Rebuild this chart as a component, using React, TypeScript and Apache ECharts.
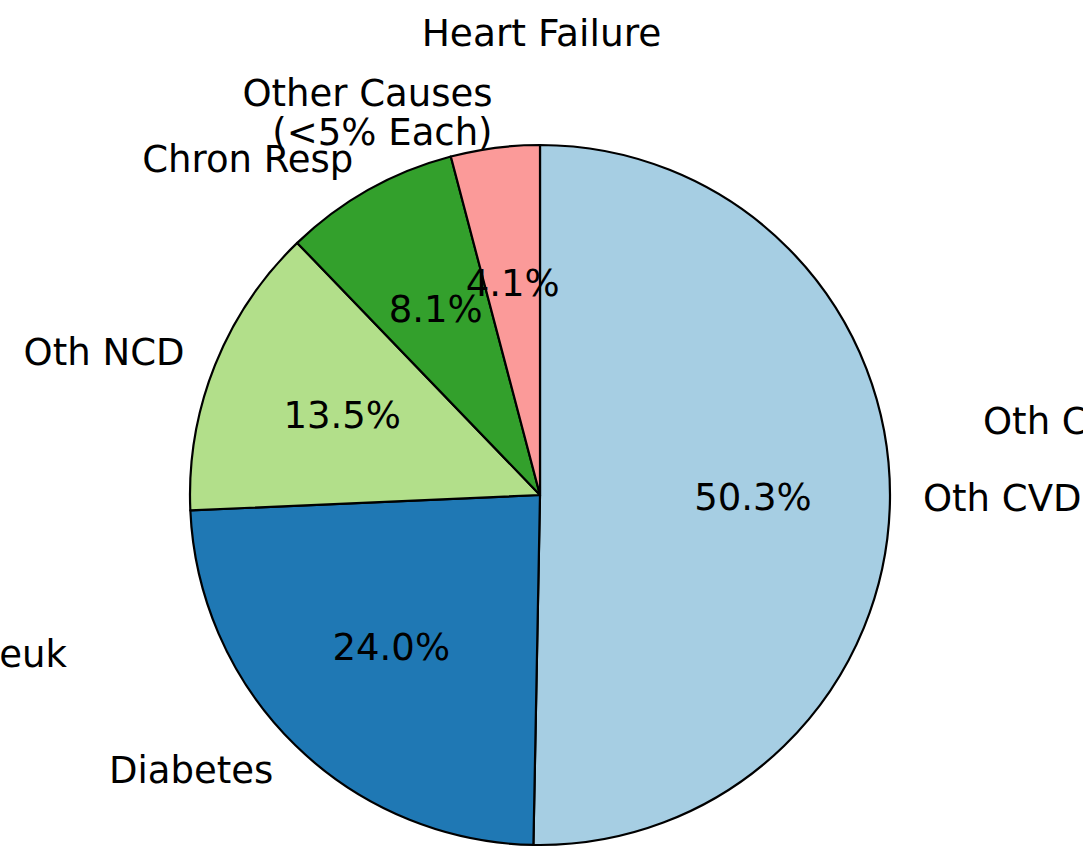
import React, { useEffect, useRef } from "react";
import * as echarts from "echarts";

const categories = ["Oth CVD", "Diabetes", "Oth NCD", "Chron Resp", "Other Causes\n(<5% Each)"];
const values = [50.3, 24.0, 13.5, 8.1, 4.1];
const colors = ["#a6cee3", "#1f78b4", "#b2df8a", "#33a02c", "#fb9a99"];
const titleText = "Heart Failure";
const strayLabels = ["Oth C", "euk"];

const FONT = "DejaVu Sans";
const FS = 37;

export default function App() {
  const ref = useRef<HTMLDivElement>(null);
  useEffect(() => {
    if (!ref.current) return;
    const chart = echarts.init(ref.current, undefined, { renderer: "svg" });
    const data = categories.map((name, i) => ({
      name,
      value: values[i],
      itemStyle: { color: colors[i] },
    }));
    chart.setOption({
      animation: false,
      backgroundColor: "#ffffff",
      title: {
        text: titleText,
        left: "center",
        top: 9,
        textStyle: { fontSize: 37.5, fontWeight: "normal", fontFamily: FONT, color: "#000" },
      },
      graphic: [
        {
          type: "text",
          left: 983,
          top: 403,
          style: { text: strayLabels[0], font: `${FS}px "${FONT}"`, fill: "#000" },
        },
        {
          type: "text",
          right: 1083 - 67,
          top: 636,
          style: { text: strayLabels[1], font: `${FS}px "${FONT}"`, fill: "#000" },
        },
      ],
      series: [
        {
          type: "pie",
          center: [540, 495],
          radius: [0, 350],
          startAngle: 90,
          clockwise: true,
          avoidLabelOverlap: false,
          silent: true,
          data,
          itemStyle: { borderColor: "#000", borderWidth: 2.2 },
          labelLayout: { hideOverlap: false },
          label: {
            show: true,
            position: "outside",
            distanceToLabelLine: -2,
            fontSize: FS,
            fontFamily: FONT,
            color: "#000",
            lineHeight: 39,
          },
          labelLine: { show: false, length: 35, length2: 0 },
        },
        {
          type: "pie",
          center: [540, 495],
          radius: [0, 420],
          startAngle: 90,
          clockwise: true,
          avoidLabelOverlap: false,
          silent: true,
          data: categories.map((name, i) => ({ name, value: values[i] })),
          itemStyle: { color: "rgba(0,0,0,0)", borderWidth: 0 },
          labelLayout: { hideOverlap: false },
          label: {
            show: true,
            position: "inside",
            formatter: (p: any) => p.percent.toFixed(1) + "%",
            fontSize: FS,
            fontFamily: FONT,
            color: "#000",
          },
          labelLine: { show: false },
        },
      ],
    });
    return () => chart.dispose();
  }, []);
  return (
    <div
      ref={ref}
      style={{ position: "fixed", left: 0, top: 0, width: 1083, height: 852, background: "#fff" }}
    />
  );
}
